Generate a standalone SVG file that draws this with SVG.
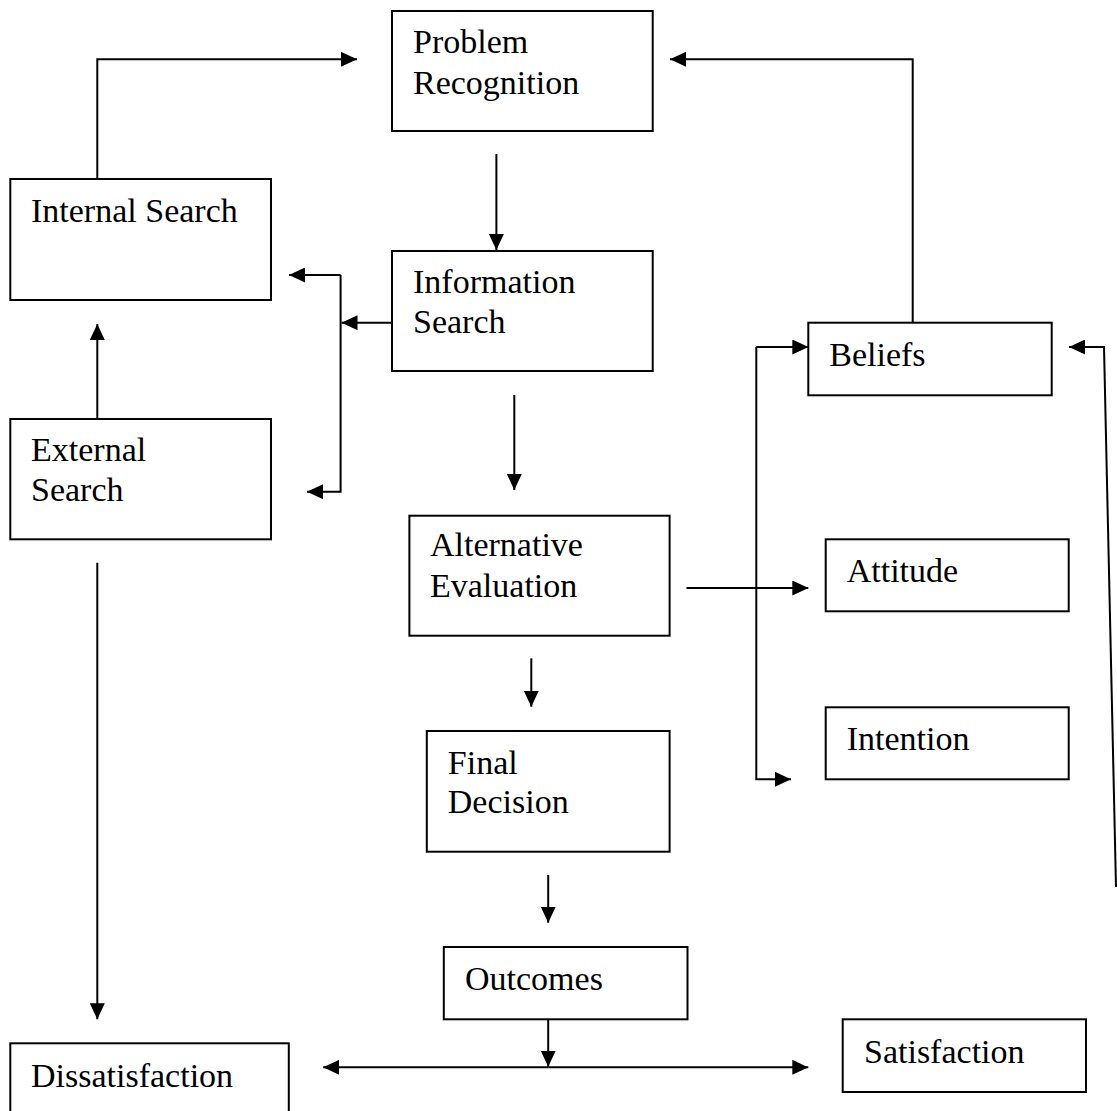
<svg xmlns="http://www.w3.org/2000/svg" width="1117" height="1111" viewBox="0 0 1117 1111">
<defs>
<marker id="ah" markerUnits="userSpaceOnUse" markerWidth="16" markerHeight="15" refX="16" refY="7.5" orient="auto">
<path d="M0,0 L16,7.5 L0,15 z" fill="#000"/>
</marker>
</defs>
<style>
.box{fill:#fff;stroke:#000;stroke-width:2}
.t{font-family:"Liberation Serif","Times New Roman",serif;font-size:34px;fill:#000}
.c{fill:none;stroke:#000;stroke-width:2}
.a{marker-end:url(#ah)}
</style>
<rect width="1117" height="1111" fill="#fff"/>
<g id="connectors">
<path class="c a" d="M97.3,179 V59.3 H357"/>
<path class="c a" d="M496.4,154 V250"/>
<path class="c a" d="M392,322.7 H341.5"/>
<path class="c a" d="M340.6,275 H289"/>
<path class="c a" d="M340.6,275 V491.7 H307"/>
<path class="c a" d="M97.3,419 V324"/>
<path class="c a" d="M97.3,562.7 V1019.3"/>
<path class="c a" d="M514.3,395 V490"/>
<path class="c a" d="M686.5,588 H808.3"/>
<path class="c a" d="M756.3,347 H808.3"/>
<path class="c a" d="M756.3,347 V779.3 H791"/>
<path class="c a" d="M912.7,322.7 V59.3 H670"/>
<path class="c a" d="M1116,887 L1104,347 H1069"/>
<path class="c a" d="M531.3,658.3 V706.7"/>
<path class="c a" d="M548.2,875 V922.7"/>
<path class="c a" d="M548.2,1019.3 V1066.7"/>
<path class="c a" d="M548.2,1067.3 H323.2"/>
<path class="c a" d="M548.2,1067.3 H808.3"/>
</g>
<g id="problem-recognition"><rect class="box" x="392" y="11" width="260.7" height="120"/><text class="t" x="413" y="53">Problem</text><text class="t" x="413" y="94">Recognition</text></g>
<g id="internal-search"><rect class="box" x="10.3" y="179" width="260.7" height="121"/><text class="t" x="31" y="222">Internal Search</text></g>
<g id="information-search"><rect class="box" x="392" y="251" width="260.7" height="120"/><text class="t" x="413" y="292.7">Information</text><text class="t" x="413" y="332.7">Search</text></g>
<g id="external-search"><rect class="box" x="10.3" y="419" width="260.7" height="120.3"/><text class="t" x="31" y="460.7">External</text><text class="t" x="31" y="500.7">Search</text></g>
<g id="beliefs"><rect class="box" x="808.3" y="322.7" width="243.4" height="72.6"/><text class="t" x="829.3" y="366">Beliefs</text></g>
<g id="alternative-evaluation"><rect class="box" x="409.4" y="515.7" width="260.2" height="120"/><text class="t" x="430" y="556">Alternative</text><text class="t" x="430" y="596.7">Evaluation</text></g>
<g id="attitude"><rect class="box" x="825.7" y="539.3" width="243" height="72"/><text class="t" x="846.7" y="581.7">Attitude</text></g>
<g id="intention"><rect class="box" x="825.7" y="707.3" width="243" height="72"/><text class="t" x="846.7" y="750">Intention</text></g>
<g id="final-decision"><rect class="box" x="426.8" y="731" width="242.8" height="120.7"/><text class="t" x="447.8" y="774">Final</text><text class="t" x="447.8" y="813.3">Decision</text></g>
<g id="outcomes"><rect class="box" x="443.8" y="947" width="243.7" height="72.3"/><text class="t" x="465" y="990">Outcomes</text></g>
<g id="dissatisfaction"><rect class="box" x="10.3" y="1043.3" width="278.5" height="80"/><text class="t" x="31" y="1086.7">Dissatisfaction</text></g>
<g id="satisfaction"><rect class="box" x="842.7" y="1019.3" width="243.3" height="72.7"/><text class="t" x="864" y="1062.7">Satisfaction</text></g>
</svg>
